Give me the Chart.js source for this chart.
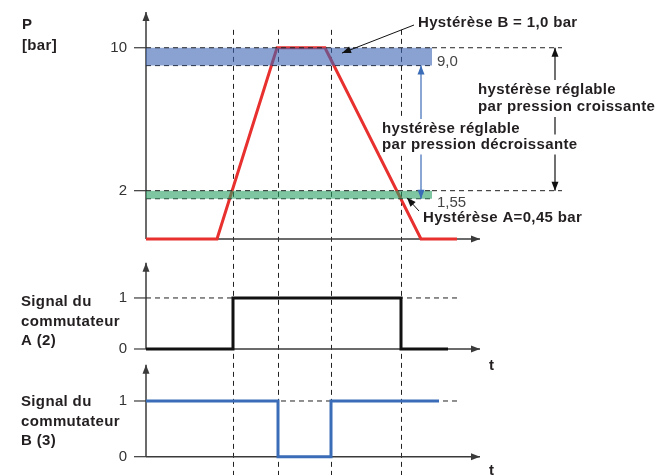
<!DOCTYPE html>
<html lang="fr">
<head>
<meta charset="UTF-8">
<title>Hystérèse du pressostat</title>
<script src="https://cdn.jsdelivr.net/npm/chart.js"></script>
<style>
  html, body { margin: 0; padding: 0; background: #fff; }
  #wrap { width: 658px; height: 475px; }
</style>
</head>
<body>
<div id="wrap"><canvas id="myChart"></canvas></div>
<script>
// time in arbitrary units, pressure in bar, switch signals 0/1
const pressureTime = [0, 7.1, 13.1, 17.9, 27.5, 31.1];
const pressureBar = [-0.7, -0.7, 10, 10, -0.7, -0.7];
const switchATime = [0, 8.7, 8.7, 25.5, 25.5, 30.2];
const switchAValue = [0, 0, 1, 1, 0, 0];
const switchBTime = [0, 13.2, 13.2, 18.5, 18.5, 29.3];
const switchBValue = [1, 1, 0, 0, 1, 1];
const switchTimes = [8.7, 13.2, 18.5, 25.5];
const hystB = [9.0, 10];
const hystA = [1.55, 2];
const pressureTicks = [2, 10];
const signalTicks = [0, 1];
const bandEnd = 28.6;
const pressureRefEnd = 41.6;
const signalRefEnd = 31.2;
const axisEnd = 33.4;

const pts = (xs, ys) => xs.map((x, i) => ({ x: x, y: ys[i] }));
const flat = (x0, x1, y) => [{ x: x0, y: y }, { x: x1, y: y }];
const DASH = [5, 4];
const FONT = '"Liberation Sans", Arial, sans-serif';

function arrowHead(ctx, x1, y1, x2, y2, len, half) {
    const a = Math.atan2(y2 - y1, x2 - x1);
    ctx.beginPath();
    ctx.moveTo(x2, y2);
    ctx.lineTo(x2 - len * Math.cos(a) + half * Math.sin(a), y2 - len * Math.sin(a) - half * Math.cos(a));
    ctx.lineTo(x2 - len * Math.cos(a) - half * Math.sin(a), y2 - len * Math.sin(a) + half * Math.cos(a));
    ctx.closePath();
    ctx.fill();
}

function arrow(ctx, x1, y1, x2, y2, color, width, both) {
    ctx.strokeStyle = color;
    ctx.fillStyle = color;
    ctx.lineWidth = width;
    ctx.beginPath();
    ctx.moveTo(x1, y1);
    ctx.lineTo(x2, y2);
    ctx.stroke();
    arrowHead(ctx, x1, y1, x2, y2, 9, 3.5);
    if (both) arrowHead(ctx, x2, y2, x1, y1, 9, 3.5);
}

function setFont(ctx, bold) {
    ctx.font = (bold ? 'bold ' : '') + '15px ' + FONT;
    ctx.letterSpacing = bold ? '0.35px' : '0px';
}

function text(ctx, s, x, y, bold, color, align) {
    setFont(ctx, bold);
    ctx.textAlign = align || 'left';
    ctx.textBaseline = 'middle';
    ctx.fillStyle = color || '#231f20';
    ctx.fillText(s, x, y);
}

// text block on a white ground, cutting the arrows behind it
function block(ctx, lines, x, y, step) {
    setFont(ctx, true);
    ctx.fillStyle = '#fff';
    lines.forEach((s, i) => {
        const w = ctx.measureText(s).width;
        ctx.fillRect(x - 2, y + i * step - 10, w + 4, 20);
    });
    lines.forEach((s, i) => text(ctx, s, x, y + i * step, true));
}

const diagramPlugin = {
    id: 'diagram',
    beforeDatasetsDraw(chart) {
        const { ctx } = chart;
        const { x, yP, yA, yB } = chart.scales;
        ctx.save();
        // switching instants
        ctx.strokeStyle = '#222';
        ctx.lineWidth = 1;
        ctx.setLineDash(DASH);
        switchTimes.forEach(t => {
            const px = Math.round(x.getPixelForValue(t)) + 0.5;
            ctx.beginPath();
            ctx.moveTo(px, yP.getPixelForValue(11));
            ctx.lineTo(px, chart.height);
            ctx.stroke();
        });
        ctx.setLineDash([]);
        // axes with arrows
        const x0 = x.getPixelForValue(0);
        const xe = x.getPixelForValue(axisEnd);
        const panels = [
            { s: yP, base: Math.min(...pressureBar), tip: 12 },
            { s: yA, base: 0, tip: 1.69 },
            { s: yB, base: 0, tip: 1.65 }
        ];
        panels.forEach(p => {
            const yb = p.s.getPixelForValue(p.base);
            arrow(ctx, x0, yb, x0, p.s.getPixelForValue(p.tip), '#3a3a3a', 1.5, false);
            arrow(ctx, x0, yb, xe, yb, '#3a3a3a', 1.5, false);
        });
        // ticks
        ctx.strokeStyle = '#3a3a3a';
        ctx.lineWidth = 1.2;
        const tick = (s, v) => {
            const py = s.getPixelForValue(v);
            ctx.beginPath();
            ctx.moveTo(x0 - 12, py);
            ctx.lineTo(x0, py);
            ctx.stroke();
            text(ctx, String(v), x0 - 19, py, false, '#333', 'right');
        };
        pressureTicks.forEach(v => tick(yP, v));
        signalTicks.forEach(v => { tick(yA, v); tick(yB, v); });
        ctx.restore();
    },
    afterDatasetsDraw(chart) {
        const { ctx } = chart;
        const { x, yP } = chart.scales;
        ctx.save();
        // left labels
        text(ctx, 'P', 22, 25, true);
        text(ctx, '[bar]', 22, 46, true);
        ['Signal du', 'commutateur', 'A (2)'].forEach((s, i) => text(ctx, s, 21, 302 + i * 19.5, true));
        ['Signal du', 'commutateur', 'B (3)'].forEach((s, i) => text(ctx, s, 21, 402 + i * 19.5, true));
        text(ctx, 't', 489, 366, true);
        text(ctx, 't', 489, 471, true);

        // adjustable hysteresis spans
        const xc = x.getPixelForValue(40.9);
        arrow(ctx, xc, yP.getPixelForValue(hystB[1]), xc, yP.getPixelForValue(hystA[1]), '#111', 1.2, true);
        const xd = x.getPixelForValue(27.5);
        arrow(ctx, xd, yP.getPixelForValue(hystB[0]), xd, yP.getPixelForValue(hystA[0]), '#3b6cb7', 1.2, true);

        block(ctx, ['hystérèse réglable', 'par pression croissante'], 478, 90, 17);
        block(ctx, ['hystérèse réglable', 'par pression décroissante'], 382, 129, 15.5);

        // band labels
        text(ctx, 'Hystérèse B = 1,0 bar', 418, 23, true);
        arrow(ctx, 414, 25, x.getPixelForValue(19.6), yP.getPixelForValue(9.7), '#111', 1, false);
        text(ctx, '9,0', 437, 62, false, '#444');
        text(ctx, '1,55', 437, 203, false, '#444');
        text(ctx, 'Hystérèse A=0,45 bar', 423, 218, true);
        arrow(ctx, 419, 211, x.getPixelForValue(26.1), yP.getPixelForValue(1.6), '#111', 1, false);
        ctx.restore();
    }
};

const dashed = { borderColor: '#222', borderWidth: 1, borderDash: DASH, pointRadius: 0, fill: false };

new Chart(document.getElementById('myChart').getContext('2d'), {
    type: 'line',
    data: {
        datasets: [
            Object.assign({}, dashed, { label: 'B haut', data: flat(0, bandEnd, hystB[1]), yAxisID: 'yP', fill: '+1', backgroundColor: 'rgba(60,100,180,0.6)', order: 1 }),
            Object.assign({}, dashed, { label: 'B bas', data: flat(0, bandEnd, hystB[0]), yAxisID: 'yP', order: 1 }),
            Object.assign({}, dashed, { label: 'A haut', data: flat(0, bandEnd, hystA[1]), yAxisID: 'yP', fill: '+1', backgroundColor: 'rgba(40,160,100,0.6)', order: 1 }),
            Object.assign({}, dashed, { label: 'A bas', data: flat(0, bandEnd, hystA[0]), yAxisID: 'yP', order: 1 }),
            Object.assign({}, dashed, { label: 'ref 10', data: flat(bandEnd, pressureRefEnd, hystB[1]), yAxisID: 'yP', clip: false, order: 1 }),
            Object.assign({}, dashed, { label: 'ref 2', data: flat(bandEnd, pressureRefEnd, hystA[1]), yAxisID: 'yP', clip: false, order: 1 }),
            Object.assign({}, dashed, { label: 'ref A', data: flat(0, signalRefEnd, 1), yAxisID: 'yA', order: 3 }),
            Object.assign({}, dashed, { label: 'ref B', data: flat(0, signalRefEnd, 1), yAxisID: 'yB', order: 3 }),
            { label: 'P', data: pts(pressureTime, pressureBar), yAxisID: 'yP', borderColor: '#e8302e', borderWidth: 3, pointRadius: 0, fill: false, order: 2 },
            { label: 'Signal A', data: pts(switchATime, switchAValue), yAxisID: 'yA', borderColor: '#111', borderWidth: 3, pointRadius: 0, fill: false, order: 2 },
            { label: 'Signal B', data: pts(switchBTime, switchBValue), yAxisID: 'yB', borderColor: '#3b6cb7', borderWidth: 3, pointRadius: 0, fill: false, order: 2 }
        ]
    },
    options: {
        responsive: true,
        maintainAspectRatio: false,
        animation: false,
        layout: { padding: { left: 146, top: 12, right: 162, bottom: 5 } },
        plugins: { legend: { display: false }, tooltip: { enabled: false } },
        scales: {
            x: { type: 'linear', min: 0, max: 35, display: false },
            yB: { type: 'linear', position: 'left', min: -0.239, max: 1.70, display: false, stack: 'panels', stackWeight: 108 },
            yA: { type: 'linear', position: 'left', min: -0.255, max: 1.94, display: false, stack: 'panels', stackWeight: 112 },
            yP: { type: 'linear', position: 'left', min: -1.32, max: 12.0, display: false, stack: 'panels', stackWeight: 238 }
        }
    },
    plugins: [diagramPlugin]
});
</script>
</body>
</html>
